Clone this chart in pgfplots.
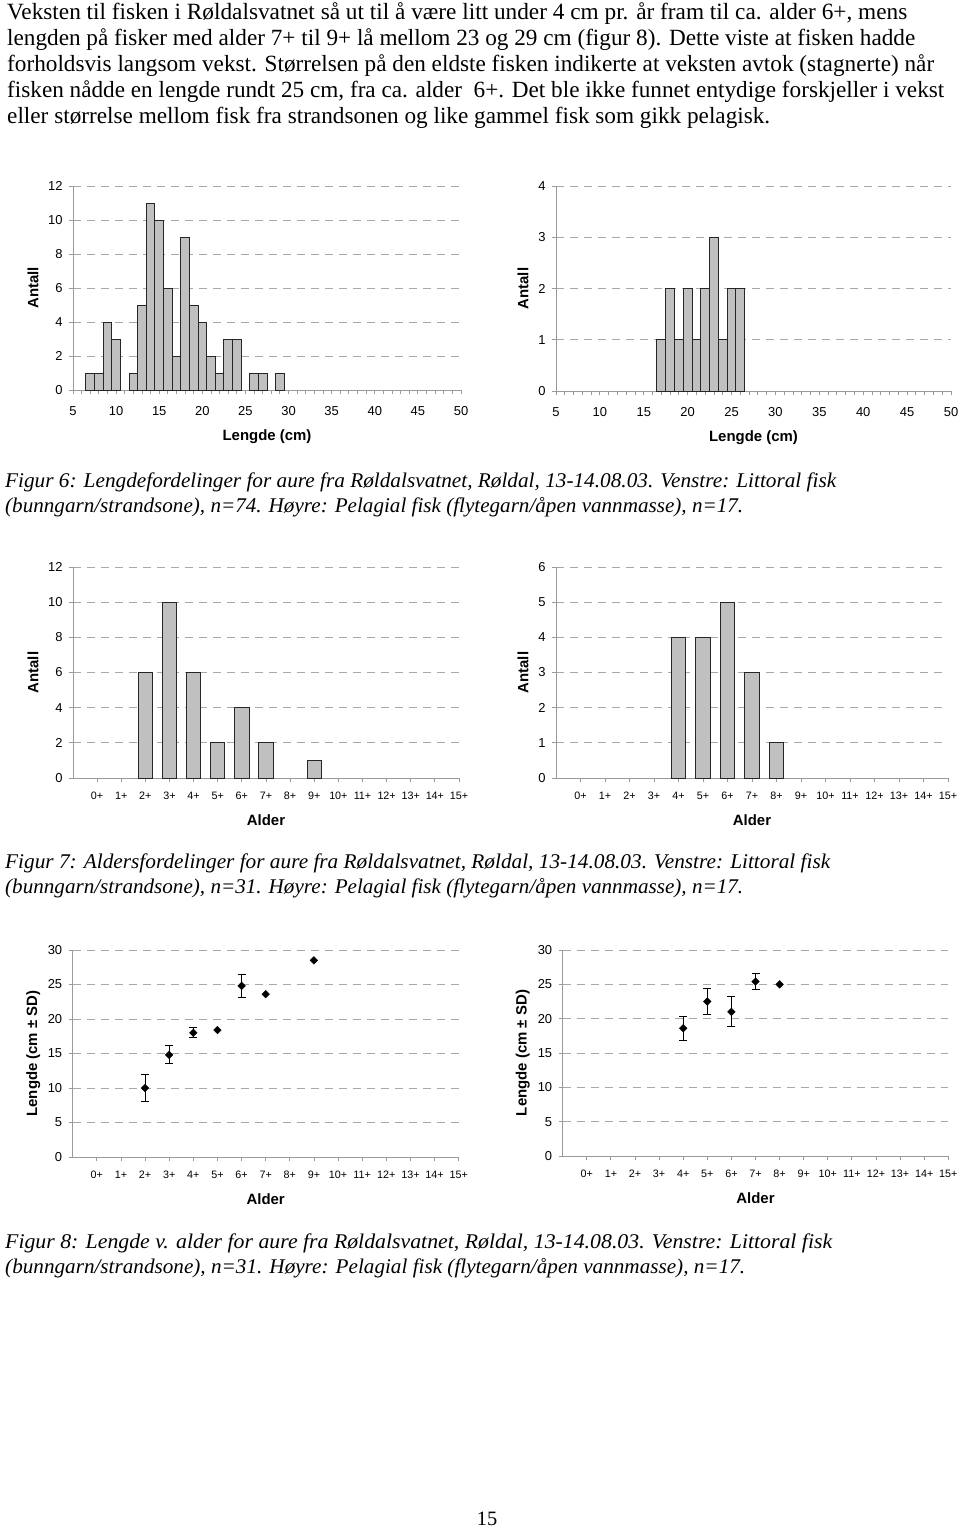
\documentclass[border=0pt]{standalone}
\usepackage{fontspec}
\setmainfont{Liberation Serif}
\newfontfamily\sansf{Liberation Sans}
\usepackage{graphicx}
\usepackage{pgfplots}
\pgfplotsset{compat=1.18}

\definecolor{axgray}{HTML}{9A9A9A}
\definecolor{gridgray}{HTML}{A8A8A8}
\definecolor{barfill}{HTML}{C0C0C0}

\pgfplotsset{
  pagechart/.style={
    scale only axis,
    axis lines*=left,
    axis line style={axgray, line width=0.9bp},
    tick align=outside,
    major tick length=4bp, minor tick length=4bp,
    tick style={axgray, line width=0.9bp},
    ymajorgrids,
    major grid style={gridgray, dash pattern=on 8bp off 6bp, line width=0.9bp},
    /pgf/number format/assume math mode=true,
    tick label style={font=\sansf\fontsize{13}{15}\selectfont, text=black},
    y tick label style={xshift=-3bp},
    label style={font=\sansf\bfseries\fontsize{15}{17}\selectfont},
    ymin=0,
    clip=false,
    x label style={at={(axis description cs:0.5,0)}, anchor=center},
    y label style={at={(axis description cs:0,0.5)}, anchor=center},
  },
  lenchart/.style={
    xmin=5, xmax=50,
    xtick={5,10,...,50}, minor xtick={6,...,49},
    x tick label style={yshift=-8bp, text height=9.5bp, text depth=0bp},
    xlabel={Lengde (cm)}, ylabel={Antall},
    x label style={yshift=-47bp},
  },
  agechart/.style={
    xmin=-1, xmax=15,
    xtick={0,...,15},
    xticklabels={0+,1+,2+,3+,4+,5+,6+,7+,8+,9+,10+,11+,12+,13+,14+,15+},
    x tick label style={font=\sansf\fontsize{10.8}{12}\selectfont, yshift=-6bp,
      text height=8bp, text depth=0bp},
    xlabel={Alder},
    x label style={yshift=-42bp},
  },
  histbar/.style={ybar, bar width=1, fill=barfill, draw=black!85, line width=1bp},
  agebar/.style={ybar, bar width=0.6, fill=barfill, draw=black!85, line width=1bp},
  meanpt/.style={only marks, mark=square*, mark size=2.7bp,
    mark options={rotate=45, fill=black, draw=black}},
}

\pgfplotstableread{
x y
7 1
8 1
9 4
10 3
12 1
13 5
14 11
15 10
16 6
17 2
18 9
19 5
20 4
21 2
22 1
23 3
24 3
26 1
27 1
29 1
}\lenlit

\pgfplotstableread{
x y
17 1
18 2
19 1
20 2
21 1
22 2
23 3
24 1
25 2
26 2
}\lenpel

\pgfplotstableread{
x y
2 6
3 10
4 6
5 2
6 4
7 2
9 1
}\agelit

\pgfplotstableread{
x y
4 4
5 4
6 5
7 3
8 1
}\agepel

\newcommand{\bodyline}[3]{\node[anchor=base west, inner sep=0pt] at (7bp,-#1bp)
  {\resizebox{#2bp}{!}{\fontsize{20.5}{24}\selectfont #3}};}
\newcommand{\capline}[3]{\node[anchor=base west, inner sep=0pt] at (5bp,-#1bp)
  {\resizebox{#2bp}{\height}{\fontsize{21}{24}\selectfont\itshape #3}};}

\begin{document}
\begin{tikzpicture}
\useasboundingbox (0,0) rectangle (960bp,-1528bp);

% body text
\bodyline{19}{900}{Veksten til fisken i Røldalsvatnet så ut til å være litt under 4 cm pr. år fram til ca. alder 6+, mens}
\bodyline{45}{908}{lengden på fisker med alder 7+ til 9+ lå mellom 23 og 29 cm (figur 8). Dette viste at fisken hadde}
\bodyline{71}{927}{forholdsvis langsom vekst. Størrelsen på den eldste fisken indikerte at veksten avtok (stagnerte) når}
\bodyline{97}{937}{fisken nådde en lengde rundt 25 cm, fra ca. alder\ \ 6+. Det ble ikke funnet entydige forskjeller i vekst}
\bodyline{123}{763}{eller størrelse mellom fisk fra strandsonen og like gammel fisk som gikk pelagisk.}

% Figur 6 left
\begin{axis}[pagechart, lenchart, at={(73bp,-390bp)}, anchor=south west,
  width=388bp, height=204bp, ymax=12, ytick={0,2,...,12},
  y label style={yshift=40bp}]
\addplot[histbar] table[x=x,y=y] {\lenlit};
\end{axis}

% Figur 6 right
\begin{axis}[pagechart, lenchart, at={(556bp,-391bp)}, anchor=south west,
  width=395bp, height=205bp, ymax=4, ytick={0,1,...,4},
  y label style={yshift=33bp}]
\addplot[histbar] table[x=x,y=y] {\lenpel};
\end{axis}

\capline{487}{831}{Figur 6: Lengdefordelinger for aure fra Røldalsvatnet, Røldal, 13-14.08.03. Venstre: Littoral fisk}
\capline{512}{738}{(bunngarn/strandsone), n=74. Høyre: Pelagial fisk (flytegarn/åpen vannmasse), n=17.}

% Figur 7 left
\begin{axis}[pagechart, agechart, at={(73bp,-778bp)}, anchor=south west,
  width=386bp, height=211bp, ymax=12, ytick={0,2,...,12}, ylabel={Antall},
  y label style={yshift=40bp}]
\addplot[agebar] table[x=x,y=y] {\agelit};
\end{axis}

% Figur 7 right
\begin{axis}[pagechart, agechart, at={(556bp,-778bp)}, anchor=south west,
  width=392bp, height=211bp, ymax=6, ytick={0,1,...,6}, ylabel={Antall},
  y label style={yshift=33bp}]
\addplot[agebar] table[x=x,y=y] {\agepel};
\end{axis}

\capline{868}{825}{Figur 7: Aldersfordelinger for aure fra Røldalsvatnet, Røldal, 13-14.08.03. Venstre: Littoral fisk}
\capline{893}{738}{(bunngarn/strandsone), n=31. Høyre: Pelagial fisk (flytegarn/åpen vannmasse), n=17.}

% Figur 8 left
\begin{axis}[pagechart, agechart, at={(72.7bp,-1157bp)}, anchor=south west,
  width=386bp, height=207bp, ymax=30, ytick={0,5,...,30}, ylabel={Lengde (cm ± SD)},
  y label style={yshift=39.5bp}]
\addplot[meanpt, error bars/.cd, y dir=both, y explicit,
  error bar style={black, line width=1bp},
  error mark options={rotate=90, mark size=4bp, black, line width=1bp}]
  coordinates {(2,10) +- (0,1.9) (3,14.8) +- (0,1.3) (4,18.0) +- (0,0.75) (6,24.8) +- (0,1.7)};
\addplot[meanpt] coordinates {(5,18.4) (7,23.6) (9,28.5)};
\end{axis}

% Figur 8 right
\begin{axis}[pagechart, agechart, at={(562.7bp,-1156bp)}, anchor=south west,
  width=385.6bp, height=206bp, ymax=30, ytick={0,5,...,30}, ylabel={Lengde (cm ± SD)},
  y label style={yshift=40bp}]
\addplot[meanpt, error bars/.cd, y dir=both, y explicit,
  error bar style={black, line width=1bp},
  error mark options={rotate=90, mark size=4bp, black, line width=1bp}]
  coordinates {(4,18.6) +- (0,1.75) (5,22.5) +- (0,1.85) (6,21.0) +- (0,2.2) (7,25.4) +- (0,1.2)};
\addplot[meanpt] coordinates {(8,25.0)};
\end{axis}

\capline{1248}{827}{Figur 8: Lengde v. alder for aure fra Røldalsvatnet, Røldal, 13-14.08.03. Venstre: Littoral fisk}
\capline{1273}{740}{(bunngarn/strandsone), n=31. Høyre: Pelagial fisk (flytegarn/åpen vannmasse), n=17.}

\node[anchor=base, inner sep=0pt] at (487bp,-1525bp) {\fontsize{20.5}{24}\selectfont 15};
\end{tikzpicture}
\end{document}
